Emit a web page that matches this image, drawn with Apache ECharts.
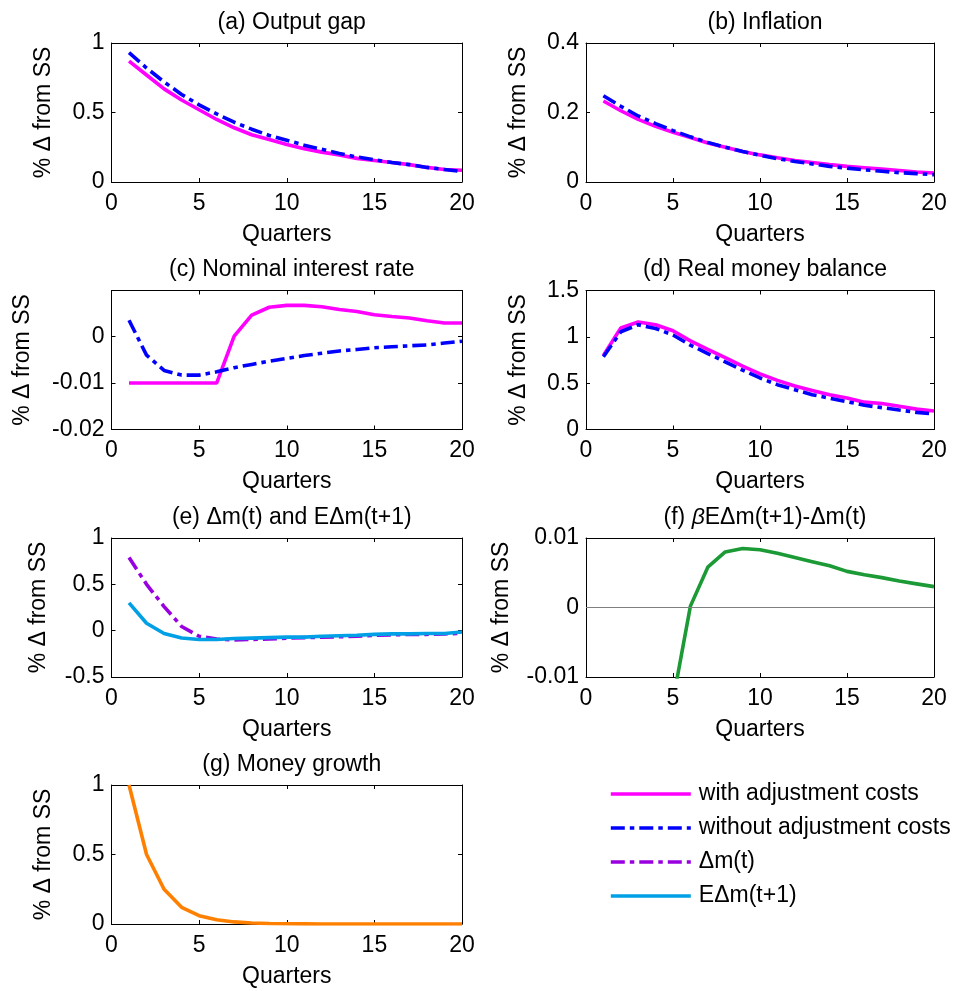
<!DOCTYPE html>
<html><head><meta charset="utf-8">
<script src="https://cdn.jsdelivr.net/npm/echarts@6/dist/echarts.min.js"></script>
<style>html,body{margin:0;padding:0;background:#fff}#c{width:958px;height:991px}</style>
</head><body><div id="c"></div>
<script>
// ---------- data ----------
const quarters = [1,2,3,4,5,6,7,8,9,10,11,12,13,14,15,16,17,18,19,20];

const outputGapWith    = [0.87,0.77,0.67,0.59,0.52,0.45,0.39,0.34,0.305,0.27,0.24,0.215,0.195,0.17,0.155,0.14,0.125,0.105,0.09,0.085];
const outputGapWithout = [0.93,0.82,0.72,0.63,0.555,0.49,0.43,0.38,0.335,0.30,0.265,0.235,0.205,0.18,0.16,0.14,0.125,0.105,0.09,0.075];

const inflationWith    = [0.233,0.205,0.18,0.16,0.143,0.128,0.112,0.1,0.088,0.078,0.07,0.062,0.056,0.05,0.045,0.041,0.037,0.033,0.029,0.026];
const inflationWithout = [0.248,0.218,0.19,0.168,0.148,0.13,0.114,0.1,0.088,0.077,0.067,0.059,0.052,0.045,0.04,0.035,0.031,0.027,0.024,0.021];

const rateWith    = [-0.01,-0.01,-0.01,-0.01,-0.01,-0.01,0.0001,0.0046,0.0063,0.0067,0.0067,0.0064,0.0058,0.0054,0.0047,0.0043,0.004,0.0034,0.0029,0.0029];
const rateWithout = [0.0035,-0.004,-0.0073,-0.0083,-0.0083,-0.0076,-0.0067,-0.006,-0.0053,-0.0047,-0.0041,-0.0036,-0.0031,-0.0028,-0.0024,-0.0022,-0.002,-0.0018,-0.0014,-0.001];

const moneyWith    = [0.80,1.095,1.16,1.13,1.065,0.956,0.865,0.775,0.684,0.6,0.53,0.47,0.42,0.375,0.34,0.295,0.28,0.25,0.22,0.20];
const moneyWithout = [0.785,1.055,1.13,1.09,1.02,0.91,0.82,0.73,0.64,0.556,0.484,0.43,0.375,0.338,0.30,0.262,0.236,0.21,0.185,0.167];

const dmNow      = [0.79,0.50,0.26,0.045,-0.06,-0.09,-0.10,-0.095,-0.09,-0.08,-0.075,-0.07,-0.065,-0.06,-0.05,-0.045,-0.04,-0.04,-0.035,-0.03];
const dmExpected = [0.30,0.08,-0.03,-0.08,-0.095,-0.095,-0.085,-0.08,-0.075,-0.07,-0.07,-0.06,-0.055,-0.05,-0.04,-0.035,-0.035,-0.03,-0.03,-0.015];

const dmGap = [-0.49,-0.42,-0.28,-0.12,-0.0134,0.0002,0.0058,0.008,0.0085,0.0083,0.0078,0.0072,0.0066,0.006,0.0052,0.0047,0.0043,0.0038,0.0034,0.003];

const moneyGrowth = [1,0.5,0.25,0.12,0.06,0.03,0.015,0.007,0.004,0.002,0.001,0,0,0,0,0,0,0,0,0];

const xTicksMax = 20;
const yTicksA = [0,0.5,1];
const yTicksB = [0,0.2,0.4];
const yTicksC = [-0.02,-0.01,0];
const yTicksD = [0,0.5,1,1.5];
const yTicksE = [-0.5,0,0.5,1];
const yTicksF = [-0.01,0,0.01];
const yTicksG = [0,0.5,1];

const legendNames = ['with adjustment costs','without adjustment costs','\u0394m(t)','E\u0394m(t+1)'];

// ---------- layout / style ----------
const FONT = 'Liberation Sans';
const FS = 23;
const LW = 3.6;
const DASHDOT = [14,5,4.5,5];

const L1 = 111.5, W1 = 350.5, L2 = 586, W2 = 348;
const TOPS = [43, 290.5, 538, 785];
const H = 139;

const panels = [
  {title:'(a) Output gap', left:L1, width:W1, top:TOPS[0], yMin:0, yMax:1, yTicks:yTicksA, nameGap:56},
  {title:'(b) Inflation', left:L2, width:W2, top:TOPS[0], yMin:0, yMax:0.4, yTicks:yTicksB, nameGap:56},
  {title:'(c) Nominal interest rate', left:L1, width:W1, top:TOPS[1], yMin:-0.02, yMax:0.0099, yTicks:yTicksC, nameGap:77},
  {title:'(d) Real money balance', left:L2, width:W2, top:TOPS[1], yMin:0, yMax:1.5, yTicks:yTicksD, nameGap:56},
  {title:'(e) \u0394m(t) and E\u0394m(t+1)', left:L1, width:W1, top:TOPS[2], yMin:-0.5, yMax:1, yTicks:yTicksE, nameGap:61},
  {title:'(f) {b|\u03b2}E\u0394m(t+1)-\u0394m(t)', left:L2, width:W2, top:TOPS[2], yMin:-0.01, yMax:0.01, yTicks:yTicksF, nameGap:73},
  {title:'(g) Money growth', left:L1, width:W1, top:TOPS[3], yMin:0, yMax:1, yTicks:yTicksG, nameGap:56}
];

const txt = {fontFamily:FONT, fontSize:FS, color:'#000'};
const grids = [], xAxes = [], yAxes = [], titles = [];
const axLine = {show:true, onZero:false, lineStyle:{color:'#000', width:1}};
const tick = {show:true, inside:true, length:4, lineStyle:{color:'#000', width:1}};

panels.forEach((p,i) => {
  grids.push({left:p.left, top:p.top, width:p.width, height:H, containLabel:false});
  titles.push({
    text:p.title, left:p.left + p.width/2, top:p.top - 37, textAlign:'center',
    textStyle:Object.assign({}, txt, {fontWeight:'normal', rich:{b:{fontFamily:FONT, fontSize:FS, fontStyle:'italic', color:'#000'}}})
  });
  xAxes.push({
    gridIndex:i, type:'value', position:'bottom', min:0, max:xTicksMax, interval:5,
    axisLine:axLine, axisTick:tick, splitLine:{show:false},
    axisLabel:Object.assign({show:true, margin:10}, txt),
    name:'Quarters', nameLocation:'middle', nameGap:41, nameTextStyle:txt
  });
  xAxes.push({
    gridIndex:i, type:'value', position:'top', min:0, max:xTicksMax, interval:5,
    axisLine:axLine, axisTick:tick, splitLine:{show:false}, axisLabel:{show:false}
  });
  yAxes.push({
    gridIndex:i, type:'value', position:'left', min:p.yMin, max:p.yMax,
    axisLine:axLine, axisTick:Object.assign({}, tick, {customValues:p.yTicks}), splitLine:{show:false},
    axisLabel:Object.assign({show:true, margin:7, customValues:p.yTicks, showMinLabel:true, showMaxLabel:true}, txt),
    name:'% \u0394 from SS', nameLocation:'middle', nameGap:p.nameGap, nameTextStyle:txt
  });
  yAxes.push({
    gridIndex:i, type:'value', position:'right', min:p.yMin, max:p.yMax,
    axisLine:axLine, axisTick:Object.assign({}, tick, {customValues:p.yTicks}), splitLine:{show:false},
    axisLabel:{show:false}
  });
});

function pts(arr){ return quarters.map((q,k) => [q, arr[k]]); }
function line(name, panel, arr, color, type, z){
  return {
    name:name, type:'line', xAxisIndex:panel*2, yAxisIndex:panel*2, data:pts(arr),
    symbol:'none', showSymbol:false, animation:false, emphasis:{disabled:true}, silent:true,
    color:color, lineStyle:{color:color, width:LW, type:type}, z:z
  };
}

const series = [
  line(legendNames[0], 0, outputGapWith, '#ff00ff', 'solid', 2),
  line(legendNames[1], 0, outputGapWithout, '#0000ff', DASHDOT, 3),
  line(legendNames[0], 1, inflationWith, '#ff00ff', 'solid', 2),
  line(legendNames[1], 1, inflationWithout, '#0000ff', DASHDOT, 3),
  line(legendNames[0], 2, rateWith, '#ff00ff', 'solid', 2),
  line(legendNames[1], 2, rateWithout, '#0000ff', DASHDOT, 3),
  line(legendNames[0], 3, moneyWith, '#ff00ff', 'solid', 2),
  line(legendNames[1], 3, moneyWithout, '#0000ff', DASHDOT, 3),
  line(legendNames[2], 4, dmNow, '#9900e0', DASHDOT, 2),
  line(legendNames[3], 4, dmExpected, '#00a0e6', 'solid', 3),
  Object.assign(line('gap', 5, dmGap, '#1b9a36', 'solid', 3), {
    markLine:{silent:true, symbol:'none', animation:false, label:{show:false},
      lineStyle:{color:'#808080', width:1, type:'solid'}, data:[{yAxis:0}]}
  }),
  line('growth', 6, moneyGrowth, '#ff8000', 'solid', 3)
];

const option = {
  backgroundColor:'#fff',
  animation:false,
  title:titles,
  grid:grids,
  xAxis:xAxes,
  yAxis:yAxes,
  legend:{
    show:true, orient:'vertical', left:609, top:782, padding:0, itemWidth:80, itemHeight:14, itemGap:10,
    selectedMode:false, data:legendNames,
    itemStyle:{opacity:0, borderWidth:0},
    lineStyle:{width:LW},
    textStyle:Object.assign({}, txt, {lineHeight:24, padding:[0,0,0,3]})
  },
  series:series
};
const chart = echarts.init(document.getElementById('c'), null, {renderer:'canvas'});
chart.setOption(option);
</script>
</body></html>
